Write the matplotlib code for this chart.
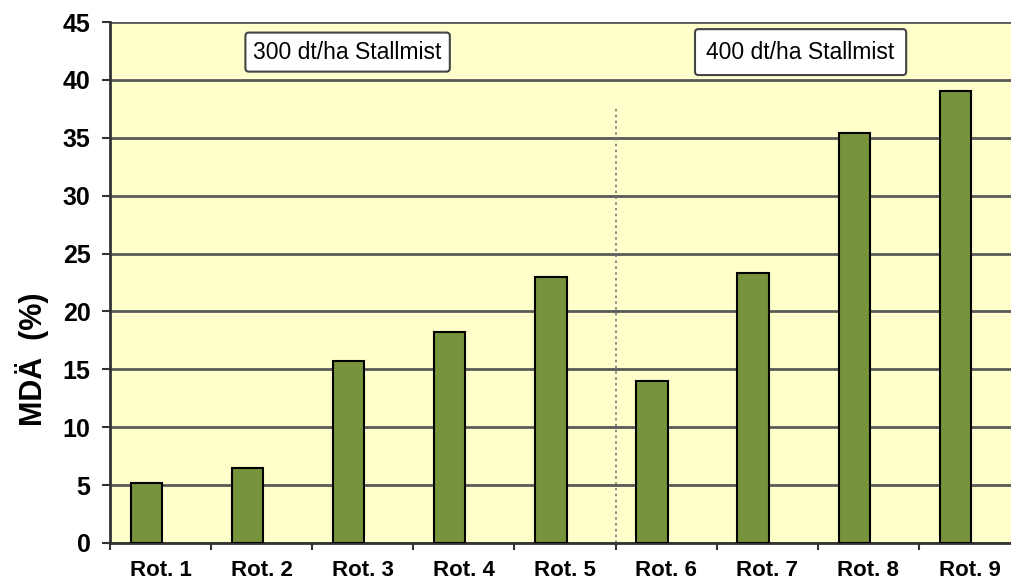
import matplotlib.pyplot as plt
import numpy as np

# MDÄ je Rotation, zwei Stallmistgaben
rotations = ["Rot. 1", "Rot. 2", "Rot. 3", "Rot. 4", "Rot. 5",
             "Rot. 6", "Rot. 7", "Rot. 8", "Rot. 9"]
mda = [5.2, 6.5, 15.7, 18.2, 23.0, 14.0, 23.3, 35.4, 39.0]
group_labels = ["300 dt/ha Stallmist", "400 dt/ha Stallmist"]
y_ticks = [0, 5, 10, 15, 20, 25, 30, 35, 40, 45]

plt.rcParams['font.family'] = ['Liberation Sans', 'DejaVu Sans']

W, H = 1011, 581
fig = plt.figure(figsize=(W / 100, H / 100), dpi=100)
ax = fig.add_axes([110 / W, (H - 543) / H, (1020 - 110) / W, (543 - 22) / H])
ax.set_facecolor('#FFFFCC')

x = np.arange(len(rotations))
ax.bar(x - 0.14, mda, width=0.31, color='#77933C', edgecolor='black',
       linewidth=1.5, zorder=3)

# trennlinie zwischen den beiden Gaben
ax.plot([4.5, 4.5], [0, 37.5], color='#777777', lw=1.2, ls=(0, (1.5, 2)), zorder=2)

ax.set_xlim(-0.5, len(rotations) - 0.5)
ax.set_ylim(0, 45)
ax.set_yticks(y_ticks)
ax.yaxis.grid(True, color='#5a5a5a', lw=2, zorder=1)
ax.set_axisbelow(True)

ax.set_xticks(np.arange(len(rotations) + 1) - 0.5)
ax.set_xticklabels([])
ax.set_xticks(x, minor=True)
ax.set_xticklabels(rotations, minor=True, fontsize=16, fontweight='bold')
ax.tick_params(axis='x', which='minor', length=0, pad=12)
ax.tick_params(axis='x', which='major', length=5, width=1.5, color='#333333')
ax.tick_params(axis='y', length=6, width=1.5, color='#333333', labelsize=18, pad=8)
for lab in ax.get_yticklabels():
    lab.set_fontweight('bold')

for side in ['top', 'right']:
    ax.spines[side].set_visible(False)
ax.spines['left'].set_color('#333333')
ax.spines['left'].set_linewidth(2)
ax.spines['bottom'].set_color('#333333')
ax.spines['bottom'].set_linewidth(2)

box = dict(boxstyle='round,pad=0.35,rounding_size=0.15', fc='white', ec='#444444', lw=1.5)
ax.text(1.85, 42.4, group_labels[0], ha='center', va='center', fontsize=16.5, bbox=box, zorder=4)
ax.text(6.33, 42.4, group_labels[1], ha='center', va='center', fontsize=16.5,
        bbox=dict(box, boxstyle='round,pad=0.5,rounding_size=0.15'), zorder=4)

fig.text(32 / W, 1 - 359 / H, "MDÄ  (%)", rotation=90, ha='center', va='center',
         fontsize=22, fontweight='bold')

fig.savefig('out.png', dpi=100)
